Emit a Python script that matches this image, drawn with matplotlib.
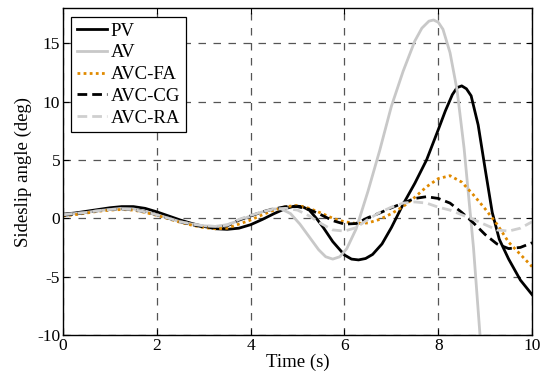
import matplotlib
matplotlib.use("Agg")
import matplotlib.pyplot as plt

plt.rcParams['font.family'] = ['Liberation Serif', 'DejaVu Serif']
plt.rcParams['axes.unicode_minus'] = False

# time grid (s)
t = [0.0, 0.25, 0.5, 0.75, 1.0, 1.25, 1.5, 1.75, 2.0, 2.25, 2.5, 2.75, 3.0, 3.25,
     3.5, 3.75, 4.0, 4.25, 4.5, 4.75, 5.0, 5.25, 5.5, 5.75, 6.0, 6.25, 6.5, 6.75,
     7.0, 7.25, 7.5, 7.75, 8.0, 8.25, 8.5, 8.75, 9.0, 9.25, 9.5, 9.75, 10.0]

t_pv = [0.0, 0.25, 0.5, 0.75, 1.0, 1.25, 1.5, 1.75, 2.0, 2.25, 2.5, 2.75, 3.0, 3.25,
        3.5, 3.75, 4.0, 4.25, 4.5, 4.75, 4.95, 5.1, 5.25, 5.4, 5.55, 5.75, 6.0, 6.15,
        6.3, 6.45, 6.6, 6.8, 7.0, 7.25, 7.5, 7.75, 8.0, 8.15, 8.3, 8.4, 8.5, 8.6,
        8.7, 8.85, 9.0, 9.15, 9.3, 9.5, 9.75, 10.0]
pv = [0.35, 0.45, 0.6, 0.75, 0.9, 1.0, 1.0, 0.85, 0.55, 0.2, -0.15, -0.45, -0.7, -0.9,
      -0.95, -0.85, -0.55, -0.1, 0.4, 0.85, 1.05, 1.0, 0.7, 0.0, -0.8, -2.0, -3.15, -3.5,
      -3.57, -3.45, -3.1, -2.2, -0.8, 1.2, 3.0, 5.0, 7.6, 9.2, 10.6, 11.2, 11.35, 11.1,
      10.5, 8.0, 4.2, 0.5, -1.8, -3.5, -5.3, -6.55]

t_av = [0.0, 0.25, 0.5, 0.75, 1.0, 1.25, 1.5, 1.75, 2.0, 2.25, 2.5, 2.75, 3.0, 3.25,
        3.5, 3.75, 4.0, 4.25, 4.45, 4.65, 4.85, 5.05, 5.25, 5.45, 5.6, 5.75, 5.9,
        6.05, 6.25, 6.5, 6.75, 7.0, 7.25, 7.5, 7.65, 7.8, 7.9, 8.0, 8.1, 8.25, 8.4,
        8.55, 8.75, 9.0]
av = [0.3, 0.4, 0.5, 0.65, 0.75, 0.85, 0.8, 0.6, 0.3, 0.0, -0.3, -0.5, -0.65, -0.7,
      -0.55, -0.2, 0.2, 0.55, 0.8, 0.8, 0.4, -0.5, -1.6, -2.7, -3.3, -3.5, -3.3,
      -2.6, -0.9, 2.3, 5.8, 9.6, 12.6, 15.2, 16.3, 16.9, 17.0, 16.8, 16.2, 14.2, 11.0,
      6.0, -2.5, -16.0]

avc_fa = [0.2, 0.3, 0.45, 0.6, 0.7, 0.75, 0.7, 0.5, 0.25, -0.05, -0.35, -0.6, -0.8, -0.9,
          -0.85, -0.5, -0.15, 0.3, 0.7, 1.0, 1.1, 0.85, 0.45, 0.0, -0.3, -0.45, -0.4, -0.1,
          0.4, 1.0, 1.8, 2.7, 3.4, 3.65, 3.1, 2.0, 0.8, -0.5, -2.05, -3.1, -4.15]

avc_cg = [0.25, 0.35, 0.5, 0.65, 0.75, 0.8, 0.75, 0.55, 0.3, 0.0, -0.3, -0.55, -0.75, -0.8,
          -0.65, -0.15, 0.2, 0.55, 0.8, 1.0, 1.0, 0.75, 0.3, -0.2, -0.5, -0.45, 0.05, 0.45,
          0.9, 1.3, 1.7, 1.85, 1.7, 1.3, 0.5, -0.4, -1.4, -2.2, -2.6, -2.5, -2.1]

avc_ra = [0.3, 0.4, 0.5, 0.65, 0.75, 0.8, 0.75, 0.55, 0.3, 0.0, -0.3, -0.5, -0.65, -0.7,
          -0.6, -0.1, 0.25, 0.55, 0.8, 0.85, 0.7, 0.2, -0.45, -1.0, -1.1, -0.8, -0.1, 0.5,
          0.95, 1.3, 1.4, 1.3, 0.95, 0.7, 0.3, -0.1, -0.55, -1.0, -1.1, -0.85, -0.3]

xticks = [0, 2, 4, 6, 8, 10]
yticks = [-10, -5, 0, 5, 10, 15]

fig = plt.figure(figsize=(5.48, 3.78), dpi=100)
ax = fig.add_axes([0.115, 0.114, 0.856, 0.864])

lw = 2.0
ax.plot(t_pv, pv, color='black', lw=lw, label='PV')
ax.plot(t_av, av, color='#c8c8c8', lw=lw, label='AV')
ax.plot(t, avc_fa, color='#e08a00', lw=lw, linestyle=(0, (1, 1.2)), label='AVC-FA')
ax.plot(t, avc_cg, color='black', lw=lw, linestyle=(0, (3.5, 1.8)), label='AVC-CG')
ax.plot(t, avc_ra, color='#cfcfcf', lw=lw, linestyle=(0, (3.5, 1.8)), label='AVC-RA')

ax.set_xlim(0, 10)
ax.set_ylim(-10, 18)
ax.set_xticks(xticks)
ax.set_yticks(yticks)
ax.tick_params(direction='in', top=True, right=True, labelsize=12.5, length=4, width=0.8,
               pad=2)
ax.grid(True, color='#555555', linestyle=(0, (6, 6)), linewidth=0.9)
for s in ax.spines.values():
    s.set_linewidth(1.0)
ax.set_xlabel('Time (s)', fontsize=13.5, labelpad=0)
ax.set_ylabel('Sideslip angle (deg)', fontsize=13.5, labelpad=4)

leg = ax.legend(loc='upper left', fontsize=13.5, handlelength=1.6, handletextpad=0.2,
                borderaxespad=0.45, borderpad=0.3, labelspacing=0.25, fancybox=False,
                framealpha=1, edgecolor='black')
leg.get_frame().set_linewidth(0.9)

fig.savefig('out.png', dpi=100)
